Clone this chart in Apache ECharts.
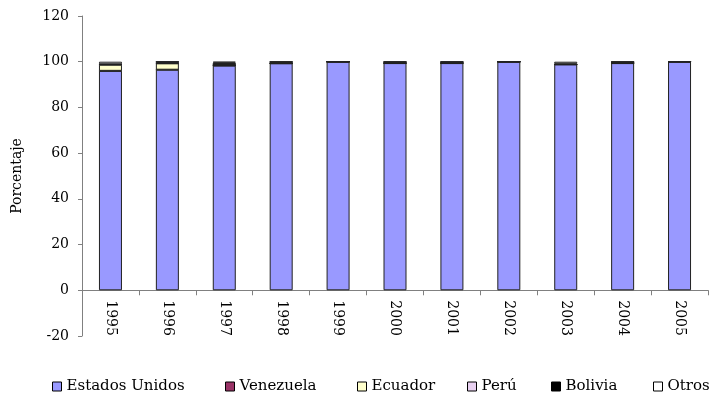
<!DOCTYPE html>
<html>
<head>
<meta charset="utf-8">
<script src="https://cdn.jsdelivr.net/npm/echarts@6/dist/echarts.min.js"></script>
<style>
  html, body { margin: 0; padding: 0; background: #fff; }
  #chart { width: 714px; height: 394px; }
</style>
</head>
<body>
<div id="chart"></div>
<script>
// Porcentaje por país de destino, 1995-2005
const years = ['1995', '1996', '1997', '1998', '1999', '2000', '2001', '2002', '2003', '2004', '2005'];
const estadosUnidos = [96.0, 96.5, 98.3, 99.3, 100, 99.4, 99.4, 100, 98.8, 99.4, 100];
const venezuela     = [0, 0, 0, 0, 0, 0, 0, 0, 0, 0, 0];
const ecuador       = [2.7, 2.8, 0.3, 0, 0, 0, 0, 0, 0, 0, 0];
const peru          = [0, 0, 0, 0, 0, 0, 0, 0, 0, 0, 0];
const bolivia       = [0.2, 0.7, 1.0, 0.7, 0, 0.6, 0.6, 0, 0.3, 0.6, 0];
const otros         = [1.1, 0, 0.4, 0, 0, 0, 0, 0, 0.9, 0, 0];
const yTicks = { min: -20, max: 120, interval: 20 };

const font = '"DejaVu Serif", "Liberation Serif", serif';

const seriesDefs = [
  ['Estados Unidos', estadosUnidos, '#9999FF'],
  ['Venezuela', venezuela, '#993366'],
  ['Ecuador', ecuador, '#FFFFCC'],
  ['Perú', peru, '#E8D0F0'],
  ['Bolivia', bolivia, '#000000'],
  ['Otros', otros, '#FFFFFF']
];

// one legend entry per component so each sits at its own spot along the bottom row
const legendLeft = [47, 220, 352, 462, 546, 648];

const gridTop = 16, gridBottom = 58, gridH = 394 - gridTop - gridBottom;
// distance (px) from the grid bottom up to the zero line
const zeroOffset = gridH * (0 - yTicks.min) / (yTicks.max - yTicks.min);

const chart = echarts.init(document.getElementById('chart'), null, { renderer: 'canvas' });
chart.setOption({
  animation: false,
  textStyle: { fontFamily: font },
  grid: { left: 82, right: 6, top: gridTop, bottom: gridBottom },
  legend: seriesDefs.map(([name], i) => ({
    left: legendLeft[i],
    top: 374,
    icon: 'rect',
    itemWidth: 9,
    itemHeight: 9,
    textStyle: { fontFamily: font, fontSize: 15, color: '#000' },
    itemStyle: { borderColor: '#000', borderWidth: 1 },
    data: [name]
  })),
  xAxis: {
    type: 'category',
    data: years,
    axisLine: { onZero: true, lineStyle: { color: '#808080', width: 1 } },
    axisTick: { show: true, alignWithLabel: false, length: 5, lineStyle: { color: '#808080' } },
    axisLabel: { rotate: -90, fontSize: 14, color: '#000', fontFamily: font, margin: 10 - zeroOffset }
  },
  yAxis: {
    type: 'value',
    min: yTicks.min,
    max: yTicks.max,
    interval: yTicks.interval,
    name: 'Porcentaje',
    nameLocation: 'middle',
    nameGap: 58,
    nameRotate: 90,
    nameTextStyle: { fontSize: 14, color: '#000', fontFamily: font },
    axisLine: { show: true, lineStyle: { color: '#808080', width: 1 } },
    axisTick: { show: true, length: 4, lineStyle: { color: '#808080' } },
    axisLabel: { fontSize: 14, color: '#000', fontFamily: font, margin: 13 },
    splitLine: { show: false }
  },
  series: seriesDefs.map(([name, data, color]) => ({
    name,
    type: 'bar',
    stack: 'total',
    data,
    barWidth: 23,
    itemStyle: { color, borderColor: '#222', borderWidth: 1 }
  }))
});
</script>
</body>
</html>
